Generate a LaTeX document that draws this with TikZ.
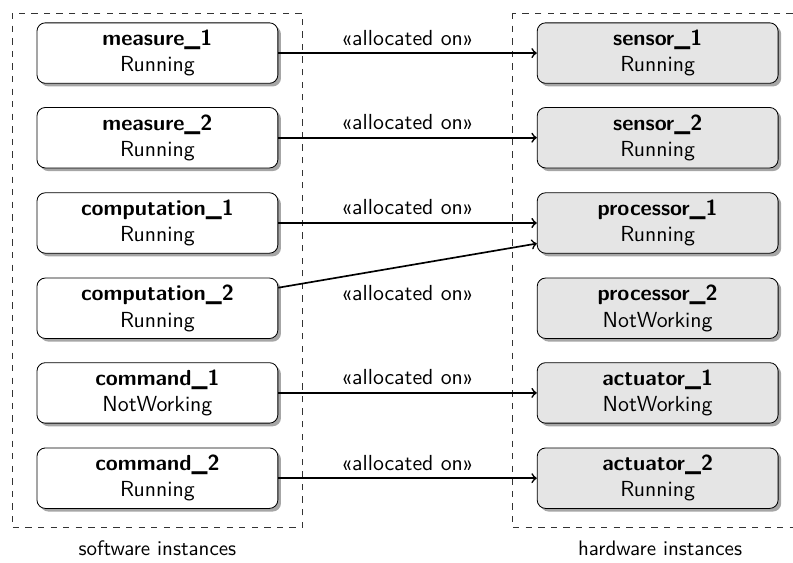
\documentclass[tikz,border=0pt]{standalone}
\usepackage{fontspec}
\usetikzlibrary{shadows}
\tikzset{
  inst/.style={draw, rounded corners=4pt, minimum width=4.04cm, minimum height=1.0cm,
    align=center, font=\sffamily\fontsize{10.4}{12.6}\selectfont,
    drop shadow={shadow xshift=1.5pt, shadow yshift=-1.5pt, fill=black!35, opacity=1}},
  sw/.style={inst, fill=white},
  hw/.style={inst, fill=black!10},
  alloc/.style={->, thick},
  allocl/.style={midway, above, font=\sffamily\fontsize{10.4}{12.6}\selectfont},
  frame/.style={draw=black!80, dashed}
}
\begin{document}
\begin{tikzpicture}
\useasboundingbox (0,0) rectangle (13.3,-9.44);
% instance groups
\draw[frame] (0.20,-0.22) rectangle (5.07,-8.85);
\draw[frame] (8.59,-0.22) rectangle (13.7,-8.85);
\node[font=\sffamily] (swlabel) at (2.64,-9.19) {software instances};
\node[font=\sffamily] (hwlabel) at (11.07,-9.19) {hardware instances};
% software instances
\node[sw] (m1) at (2.64,-0.89) {\textbf{measure\_1}\\Running};
\node[sw] (m2) at (2.64,-2.31) {\textbf{measure\_2}\\Running};
\node[sw] (c1) at (2.64,-3.74) {\textbf{computation\_1}\\Running};
\node[sw] (c2) at (2.64,-5.17) {\textbf{computation\_2}\\Running};
\node[sw] (cmd1) at (2.64,-6.59) {\textbf{command\_1}\\NotWorking};
\node[sw] (cmd2) at (2.64,-8.02) {\textbf{command\_2}\\Running};
% hardware instances
\node[hw] (s1) at (11.03,-0.89) {\textbf{sensor\_1}\\Running};
\node[hw] (s2) at (11.03,-2.31) {\textbf{sensor\_2}\\Running};
\node[hw] (p1) at (11.03,-3.74) {\textbf{processor\_1}\\Running};
\node[hw] (p2) at (11.03,-5.17) {\textbf{processor\_2}\\NotWorking};
\node[hw] (a1) at (11.03,-6.59) {\textbf{actuator\_1}\\NotWorking};
\node[hw] (a2) at (11.03,-8.02) {\textbf{actuator\_2}\\Running};
% allocations
\draw[alloc] (m1) -- (s1) node[allocl] {«allocated on»};
\draw[alloc] (m2) -- (s2) node[allocl] {«allocated on»};
\draw[alloc] (c1) -- (p1) node[allocl] {«allocated on»};
\draw[alloc] (c2) -- (p1);
\path (c2) -- (p2) node[allocl] {«allocated on»};
\draw[alloc] (cmd1) -- (a1) node[allocl] {«allocated on»};
\draw[alloc] (cmd2) -- (a2) node[allocl] {«allocated on»};
\end{tikzpicture}
\end{document}
